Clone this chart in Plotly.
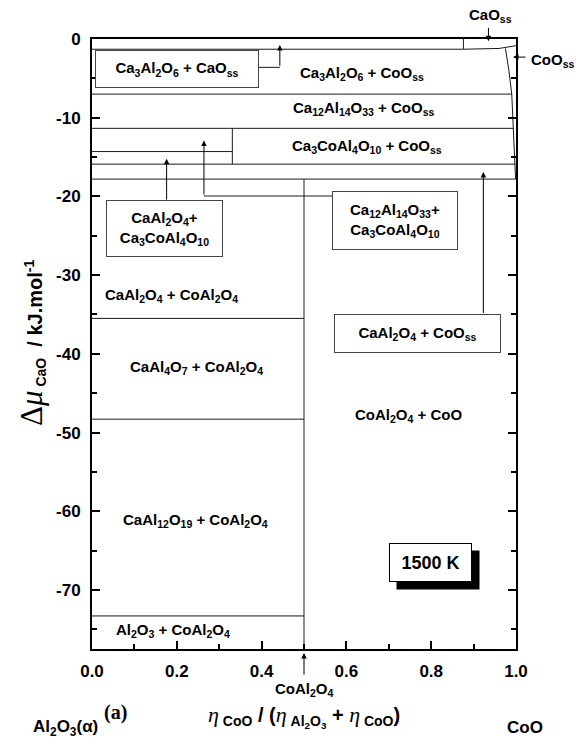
import plotly.graph_objects as go

# ---------------- data ----------------
# horizontal boundaries spanning from x=0 to the CoO_ss solubility curve
full_y = [-7.0, -11.35, -15.9, -17.8]
full_xend = [0.990, 0.994, 0.998, 0.999]
# top boundary (Ca3Al2O6 + CaO_ss / CaO_ss field)
top_x = [0.0, 0.876, 0.96, 1.0]
top_y = [-1.3, -1.3, -1.2, -0.85]
# vertical at x=0.876 from 0 to top boundary
cao_vert_x = [0.876, 0.876]
cao_vert_y = [0.0, -1.3]
# CoO_ss solubility limit curve
coo_x = [0.975, 0.983, 0.990, 0.994, 0.998, 0.999]
coo_y = [-1.2, -3.9, -7.0, -11.35, -15.9, -17.8]
# partial boundaries on the left part
part_y = [-35.5, -48.3, -73.3]
part_xend = [0.5, 0.5, 0.5]
mid_line_x = [0.0, 0.331]
mid_line_y = [-14.3, -14.3]
v331_x = [0.331, 0.331]
v331_y = [-11.35, -15.9]
v05_x = [0.5, 0.5]
v05_y = [-17.8, -77.5]

x_ticks = [0.0, 0.2, 0.4, 0.6, 0.8, 1.0]
y_ticks = [0, -10, -20, -30, -40, -50, -60, -70]

FONT = "Liberation Sans"
SERIF = "Liberation Serif"
# plot-area geometry in pixels (used to place the texts outside the axes)
L, R, T, B = 92, 516, 39, 649


def px(xp):
    return (xp - L) / (R - L)


def py(yp):
    return (B - yp) / (B - T)


fig = go.Figure()


def line(xs, ys):
    fig.add_trace(go.Scatter(x=xs, y=ys, mode="lines",
                             line=dict(color="#1a1a1a", width=1),
                             hoverinfo="skip", showlegend=False))


for yv, xe in zip(full_y, full_xend):
    line([0.0, xe], [yv, yv])
line(top_x, top_y)
line(cao_vert_x, cao_vert_y)
line(coo_x, coo_y)
for yv, xe in zip(part_y, part_xend):
    line([0.0, xe], [yv, yv])
line(mid_line_x, mid_line_y)
line(v331_x, v331_y)
line(v05_x, v05_y)

# elbow leader lines (horizontal parts)
line([0.391, 0.443], [-3.6, -3.6])
line([0.264, 0.569], [-19.95, -19.95])

ann = []


def label(x, y, text, size=15, **kw):
    d = dict(x=x, y=y, xref="x", yref="y", text=text, showarrow=False,
             font=dict(family=FONT, size=size, color="black"))
    d.update(kw)
    ann.append(d)


def plabel(xp, yp, text, size=15, family=FONT, **kw):
    d = dict(x=px(xp), y=py(yp), xref="paper", yref="paper", text=text,
             showarrow=False, xanchor="center", yanchor="middle",
             font=dict(family=family, size=size, color="black"))
    d.update(kw)
    ann.append(d)


def arrow(x, y, ax, ay):
    ann.append(dict(x=x, y=y, xref="x", yref="y", ax=ax, ay=ay,
                    axref="x", ayref="y", text="", showarrow=True,
                    arrowhead=2, arrowsize=1.1, arrowwidth=1, arrowcolor="black"))


def parrow(x, y, ax, ay, xref="x", yref="y"):
    ann.append(dict(x=x, y=y, xref=xref, yref=yref, ax=ax, ay=ay,
                    text="", showarrow=True,
                    arrowhead=2, arrowsize=1.1, arrowwidth=1, arrowcolor="black"))


def box(x0, x1, y0, y1, text, w, h):
    label((x0 + x1) / 2, (y0 + y1) / 2, text, bordercolor="#444", borderwidth=1,
          borderpad=0, bgcolor="white", width=w, height=h)


# field labels
label(0.636, -4.4, "<b>Ca<sub>3</sub>Al<sub>2</sub>O<sub>6</sub> + CoO<sub>ss</sub></b>")
label(0.642, -8.8, "<b>Ca<sub>12</sub>Al<sub>14</sub>O<sub>33</sub> + CoO<sub>ss</sub></b>")
label(0.648, -13.7, "<b>Ca<sub>3</sub>CoAl<sub>4</sub>O<sub>10</sub> + CoO<sub>ss</sub></b>")
label(0.188, -32.6, "<b>CaAl<sub>2</sub>O<sub>4</sub> + CoAl<sub>2</sub>O<sub>4</sub></b>")
label(0.247, -41.7, "<b>CaAl<sub>4</sub>O<sub>7</sub> + CoAl<sub>2</sub>O<sub>4</sub></b>")
label(0.746, -47.8, "<b>CoAl<sub>2</sub>O<sub>4</sub> + CoO</b>")
label(0.243, -61.2, "<b>CaAl<sub>12</sub>O<sub>19</sub> + CoAl<sub>2</sub>O<sub>4</sub></b>")
label(0.190, -75.1, "<b>Al<sub>2</sub>O<sub>3</sub> + CoAl<sub>2</sub>O<sub>4</sub></b>")

# boxed labels
box(0.008, 0.391, -1.6, -6.1, "<b>Ca<sub>3</sub>Al<sub>2</sub>O<sub>6</sub> + CaO<sub>ss</sub></b>", 162, 36)
box(0.035, 0.308, -20.6, -27.6,
    "<b>CaAl<sub>2</sub>O<sub>4</sub>+<br>Ca<sub>3</sub>CoAl<sub>4</sub>O<sub>10</sub></b>", 115, 55)
box(0.569, 0.862, -19.5, -26.7,
    "<b>Ca<sub>12</sub>Al<sub>14</sub>O<sub>33</sub>+<br>Ca<sub>3</sub>CoAl<sub>4</sub>O<sub>10</sub></b>", 124, 57)
box(0.574, 0.963, -35.0, -39.8, "<b>CaAl<sub>2</sub>O<sub>4</sub> + CoO<sub>ss</sub></b>", 165, 37)

# 1500 K box with shadow
label(0.7985, -66.55, " ", bgcolor="black", width=82, height=38, borderpad=0,
      xshift=7, yshift=-7)
label(0.7985, -66.55, "<b>1500 K</b>", size=18, bordercolor="black", borderwidth=1,
      borderpad=0, bgcolor="white", width=81, height=37)

# arrows inside the axes
arrow(0.443, -0.76, 0.443, -3.6)
arrow(0.176, -15.2, 0.176, -20.6)
arrow(0.264, -12.9, 0.264, -19.95)
arrow(0.923, -16.9, 0.923, -35.0)
# arrows from outside texts (pixel offsets)
parrow(0.935, -0.3, 0, -15)
parrow(0.993, -2.3, 14, 0)
parrow(0.5, py(653), 0, 23, xref="x", yref="paper")

# outside texts
plabel(490, 15, "<b>CaO<sub>ss</sub></b>", size=15)
plabel(529, 60, "<b>CoO<sub>ss</sub></b>", size=15, xanchor="left")
plabel(304, 689, "<b>CoAl<sub>2</sub>O<sub>4</sub></b>", size=15)

plabel(304, 716,
       ('<span style="font-family:Liberation Serif;font-size:22px"><i>η</i></span>'
        '<b><sub> CoO</sub> / (</b>'
        '<span style="font-family:Liberation Serif;font-size:22px"><i>η</i></span>'
        '<b><sub> Al<sub>2</sub>O<sub>3</sub></sub> + </b>'
        '<span style="font-family:Liberation Serif;font-size:22px"><i>η</i></span>'
        '<b><sub> CoO</sub>)</b>'), size=20)
plabel(31, 343,
       ('<span style="font-family:Liberation Serif;font-size:31px">Δ<i>μ</i></span>'
        '<b><sub> CaO</sub>  / kJ.mol<sup>-1</sup></b>'), size=20, textangle=-90)
plabel(65, 728, "<b>Al<sub>2</sub>O<sub>3</sub>(α)</b>", size=17)
plabel(525, 727, "<b>CoO</b>", size=17)
plabel(115, 712, "<b>(a)</b>", size=20, family=SERIF)

axis_common = dict(showline=True, linecolor="black", linewidth=2,
                   ticks="inside", ticklen=8, tickwidth=1.5, tickcolor="black",
                   showgrid=False, zeroline=False,
                   tickfont=dict(family=FONT, size=17, color="black"))

fig.update_layout(
    width=576, height=744,
    margin=dict(l=L, r=576 - R, t=T, b=744 - B),
    plot_bgcolor="white", paper_bgcolor="white",
    annotations=ann,
    xaxis=dict(range=[0, 1], tickvals=x_ticks, mirror=True,
               ticktext=[f"<b>{v:.1f}</b>" for v in x_ticks],
               minor=dict(dtick=0.1, ticks="inside", ticklen=5, tickcolor="black"),
               ticklabelstandoff=6, **axis_common),
    yaxis=dict(range=[-77.5, 0], tickvals=y_ticks, mirror="ticks",
               ticktext=[f"<b>{v}</b>" for v in y_ticks],
               minor=dict(dtick=5, ticks="inside", ticklen=5, tickcolor="black"),
               ticklabelstandoff=6, **axis_common),
)

fig.write_html("out.html")
